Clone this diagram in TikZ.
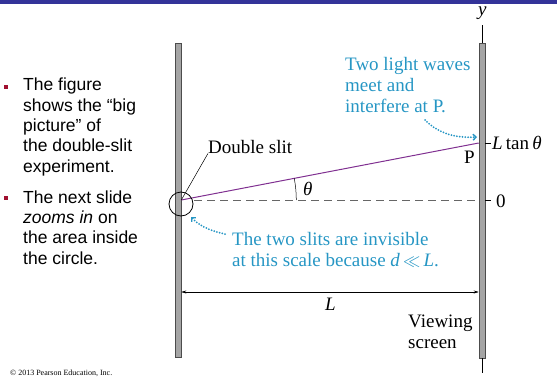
\documentclass[tikz,border=0pt]{standalone}
\usepackage{fontspec}
\setmainfont{Liberation Serif}
\newfontfamily\slidefont{Liberation Sans}
\usetikzlibrary{arrows.meta, positioning, calc}
\definecolor{bandblue}{RGB}{51,51,153}
\definecolor{notecyan}{RGB}{38,150,196}
\definecolor{raypurple}{RGB}{128,48,145}
\definecolor{bulletred}{RGB}{160,16,48}
\definecolor{screengray}{RGB}{165,165,165}

\begin{document}
\begin{tikzpicture}[x=1pt, y=-1pt,
        label/.style={inner sep=0pt, anchor=base west, font=\fontsize{19}{21}\selectfont},
        note/.style={label, text=notecyan, align=left},
        slide/.style={inner sep=0pt, anchor=base west, align=left, font=\slidefont\fontsize{17.5}{20.3}\selectfont},
        bulletbox/.style={fill=bulletred, minimum size=3.5pt, inner sep=0pt},
        screen/.style={draw=black!70, fill=screengray, line width=0.6pt, minimum width=6pt, inner sep=0pt},
        pointer/.style={notecyan, line width=2pt, line cap=round, dash pattern=on 0pt off 2.8pt, -{Straight Barb[length=3pt, width=6pt, line width=1.4pt]}},
        dim/.style={line width=0.5pt, {Stealth[length=5pt, width=3pt]}-{Stealth[length=5pt, width=3pt]}}
    ]
        \useasboundingbox (0,0) rectangle (557,380);
        \fill[bandblue] (0,0) rectangle (557,4);

        \node[screen, minimum height=314pt] (slits) at (178,200) {};
        \node[screen, minimum height=315pt] (viewer) at (482,200.5) {};
        \draw[line width=0.6pt] (viewer.north) -- ++(0,-18) (viewer.south) -- ++(0,15);

        \coordinate (S) at (slits.east |- 0,200);
        \coordinate (P) at (viewer.west |- 0,143);
        \coordinate (O) at (viewer.west |- 0,200);

        \draw[black!60, dash pattern=on 8pt off 5pt] (194,200) -- (O);
        \draw[raypurple, line width=1pt] (S) -- (P);
        \draw[line width=0.5pt] ($(S)+(115,0)$) arc[start angle=0, end angle=-10.8, radius=115];
        \draw[line width=0.6pt] (viewer.east |- P) -- ++(6,0);
        \draw[line width=0.6pt] (viewer.east |- O) -- ++(6,0);
        \node[circle, draw, line width=0.8pt, minimum size=24pt, inner sep=0pt] (zoom) at (181,204) {};

        \node[label] (ylab) at (478,15) {\textit{y}};
        \node[label] (Ltan) at (492,149) {\textit{L}\,tan\,\textit{θ}};
        \node[label] (zero) at (496,207) {0};
        \node[label] (Plab) at (464,163) {P};
        \node[label] (theta) at (303,195) {\textit{θ}};
        \node[label] (dslit) at (208,153) {Double slit};
        \node[label] (Llab) at (325,310) {\textit{L}};
        \node[label, align=left] (view) at (408,348) {Viewing\\screen};
        \node[note] (meet) at (345,112) {Two light waves\\meet and\\interfere at P.};
        \node[note] (invis) at (232,266) {The two slits are invisible\\at this scale because \textit{d}\,$\ll$\,\textit{L}.};

        \draw[line width=0.5pt] (dslit.south west) -- (S);
        \coordinate (Ptip) at (477,137);
        \coordinate (zoomtip) at (191,217);
        \draw[pointer] (425,120) .. controls (440,135) and (458,138) .. (Ptip);
        \draw[pointer] (225,234) .. controls (206,230) and (198,224) .. (zoomtip);
        \draw[dim] (slits.east |- 0,292) -- (viewer.west |- 0,292);

        \node[bulletbox] (b1) at (6,87) {};
        \node[slide] (item1) at (23,172) {The figure\\shows the “big\\picture” of\\the double-slit\\experiment.};
        \node[bulletbox] (b2) at (6,198) {};
        \node[slide] (item2) at (23,264) {The next slide\\\textit{zooms in} on\\the area inside\\the circle.};

        \node[inner sep=0pt, anchor=base west, font=\fontsize{8}{9}\selectfont] (copy) at (10,375) {© 2013 Pearson Education, Inc.};
    \end{tikzpicture}
\end{document}
